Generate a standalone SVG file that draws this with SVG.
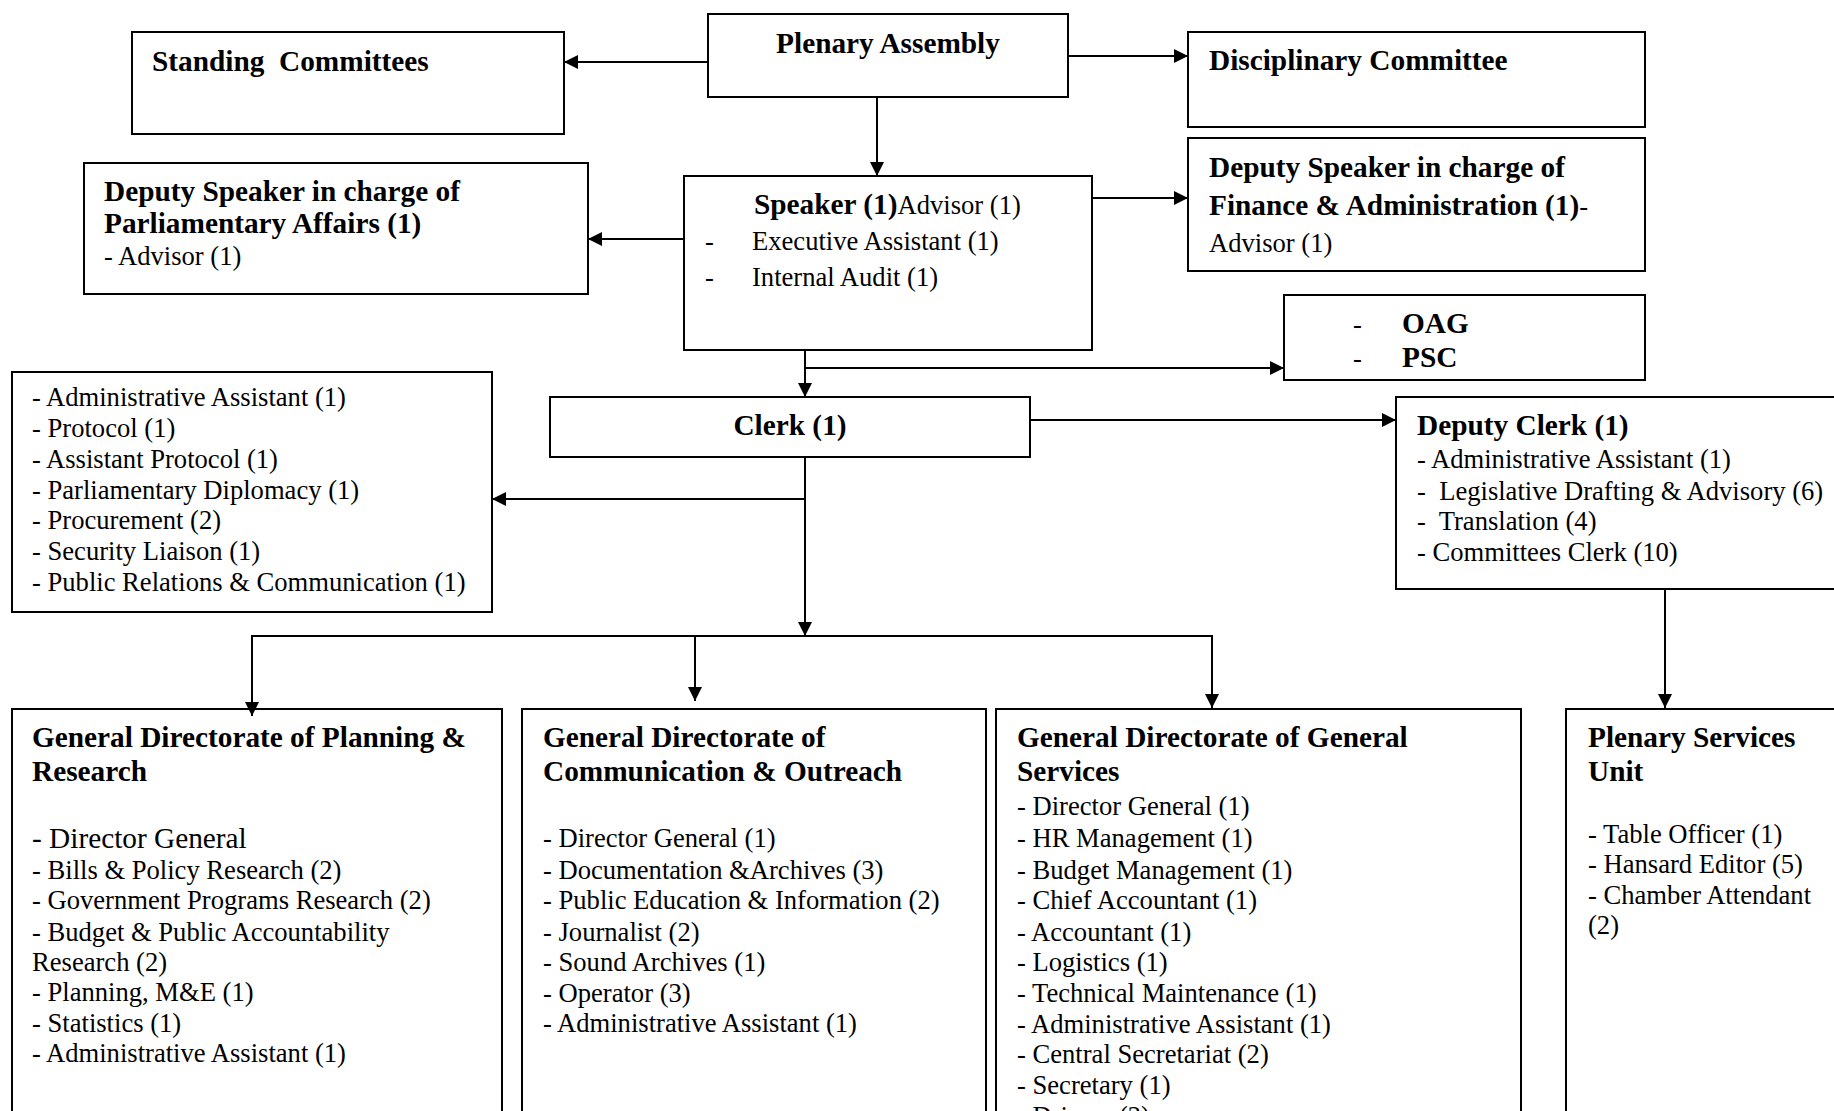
<svg xmlns="http://www.w3.org/2000/svg" width="1834" height="1111" viewBox="0 0 1834 1111">
<style>
text{font-family:"Liberation Serif","Times New Roman",serif;fill:#000}
.b{font-weight:bold;font-size:29.3px}
.n{font-size:26.6px;font-weight:normal}
.nl{font-size:29.3px;font-weight:normal}
.box{fill:#fff;stroke:#000;stroke-width:2}
.conn line{stroke:#000;stroke-width:2}
.arr{marker-end:url(#ah)}
</style>
<defs>
<marker id="ah" markerUnits="userSpaceOnUse" markerWidth="15" markerHeight="15" refX="14" refY="7" orient="auto">
<path d="M0,0 L14,7 L0,14 z" fill="#000"/>
</marker>
</defs>
<rect width="1834" height="1111" fill="#fff"/>

<g id="plenary-assembly">
<rect class="box" x="708" y="14" width="360" height="83"/>
<text class="b" x="888" y="53" text-anchor="middle">Plenary Assembly</text>
</g>

<g id="standing-committees">
<rect class="box" x="132" y="32" width="432" height="102"/>
<text class="b" x="152" y="71" xml:space="preserve">Standing  Committees</text>
</g>

<g id="disciplinary-committee">
<rect class="box" x="1188" y="32" width="457" height="95"/>
<text class="b" x="1209" y="70">Disciplinary Committee</text>
</g>

<g id="deputy-speaker-parliamentary">
<rect class="box" x="84" y="163" width="504" height="131"/>
<text class="b" x="104" y="201">Deputy Speaker in charge of</text>
<text class="b" x="104" y="233">Parliamentary Affairs (1)</text>
<text class="n" x="104" y="265">- Advisor (1)</text>
</g>

<g id="speaker">
<rect class="box" x="684" y="176" width="408" height="174"/>
<text class="b" x="754" y="214">Speaker (1)<tspan class="n">Advisor (1)</tspan></text>
<text class="n" x="705" y="250">-</text>
<text class="n" x="752" y="250">Executive Assistant (1)</text>
<text class="n" x="705" y="286">-</text>
<text class="n" x="752" y="286">Internal Audit (1)</text>
</g>

<g id="deputy-speaker-finance">
<rect class="box" x="1188" y="138" width="457" height="133"/>
<text class="b" x="1209" y="177">Deputy Speaker in charge of</text>
<text class="b" x="1209" y="215">Finance &amp; Administration (1)<tspan class="n">-</tspan></text>
<text class="n" x="1209" y="252">Advisor (1)</text>
</g>

<g id="oag-psc">
<rect class="box" x="1284" y="295" width="361" height="85"/>
<text class="n" x="1353" y="333">-</text>
<text class="b" x="1402" y="333">OAG</text>
<text class="n" x="1353" y="367">-</text>
<text class="b" x="1402" y="367">PSC</text>
</g>

<g id="clerk">
<rect class="box" x="550" y="397" width="480" height="60"/>
<text class="b" x="790" y="435" text-anchor="middle">Clerk (1)</text>
</g>

<g id="clerk-office">
<rect class="box" x="12" y="372" width="480" height="240"/>
<text class="n" x="32" y="406">- Administrative Assistant (1)</text>
<text class="n" x="32" y="437">- Protocol (1)</text>
<text class="n" x="32" y="468">- Assistant Protocol (1)</text>
<text class="n" x="32" y="499">- Parliamentary Diplomacy (1)</text>
<text class="n" x="32" y="529">- Procurement (2)</text>
<text class="n" x="32" y="560">- Security Liaison (1)</text>
<text class="n" x="32" y="591">- Public Relations &amp; Communication (1)</text>
</g>

<g id="deputy-clerk">
<rect class="box" x="1396" y="397" width="460" height="192"/>
<text class="b" x="1417" y="435">Deputy Clerk (1)</text>
<text class="n" x="1417" y="468">- Administrative Assistant (1)</text>
<text class="n" x="1417" y="500" xml:space="preserve">-  Legislative Drafting &amp; Advisory (6)</text>
<text class="n" x="1417" y="530" xml:space="preserve">-  Translation (4)</text>
<text class="n" x="1417" y="561">- Committees Clerk (10)</text>
</g>

<g id="gd-planning-research">
<rect class="box" x="12" y="709" width="490" height="430"/>
<text class="b" x="32" y="747">General Directorate of Planning &amp;</text>
<text class="b" x="32" y="781">Research</text>
<text class="nl" x="32" y="848">- Director General</text>
<text class="n" x="32" y="879">- Bills &amp; Policy Research (2)</text>
<text class="n" x="32" y="909">- Government Programs Research (2)</text>
<text class="n" x="32" y="941">- Budget &amp; Public Accountability</text>
<text class="n" x="32" y="971">Research (2)</text>
<text class="n" x="32" y="1001">- Planning, M&amp;E (1)</text>
<text class="n" x="32" y="1032">- Statistics (1)</text>
<text class="n" x="32" y="1062">- Administrative Assistant (1)</text>
</g>

<g id="gd-communication-outreach">
<rect class="box" x="522" y="709" width="464" height="430"/>
<text class="b" x="543" y="747">General Directorate of</text>
<text class="b" x="543" y="781">Communication &amp; Outreach</text>
<text class="n" x="543" y="847">- Director General (1)</text>
<text class="n" x="543" y="879">- Documentation &amp;Archives (3)</text>
<text class="n" x="543" y="909">- Public Education &amp; Information (2)</text>
<text class="n" x="543" y="941">- Journalist (2)</text>
<text class="n" x="543" y="971">- Sound Archives (1)</text>
<text class="n" x="543" y="1002">- Operator (3)</text>
<text class="n" x="543" y="1032">- Administrative Assistant (1)</text>
</g>

<g id="gd-general-services">
<rect class="box" x="996" y="709" width="525" height="430"/>
<text class="b" x="1017" y="747">General Directorate of General</text>
<text class="b" x="1017" y="781">Services</text>
<text class="n" x="1017" y="815">- Director General (1)</text>
<text class="n" x="1017" y="847">- HR Management (1)</text>
<text class="n" x="1017" y="879">- Budget Management (1)</text>
<text class="n" x="1017" y="909">- Chief Accountant (1)</text>
<text class="n" x="1017" y="941">- Accountant (1)</text>
<text class="n" x="1017" y="971">- Logistics (1)</text>
<text class="n" x="1017" y="1002">- Technical Maintenance (1)</text>
<text class="n" x="1017" y="1033">- Administrative Assistant (1)</text>
<text class="n" x="1017" y="1063">- Central Secretariat (2)</text>
<text class="n" x="1017" y="1094">- Secretary (1)</text>
<text class="n" x="1017" y="1125">- Drivers (2)</text>
</g>

<g id="plenary-services-unit">
<rect class="box" x="1566" y="709" width="290" height="430"/>
<text class="b" x="1588" y="747">Plenary Services</text>
<text class="b" x="1588" y="781">Unit</text>
<text class="n" x="1588" y="843">- Table Officer (1)</text>
<text class="n" x="1588" y="873">- Hansard Editor (5)</text>
<text class="n" x="1588" y="904">- Chamber Attendant</text>
<text class="n" x="1588" y="934">(2)</text>
</g>

<g id="connectors" class="conn">
<line class="arr" x1="708" y1="62" x2="564" y2="62"/>
<line class="arr" x1="1068" y1="56" x2="1188" y2="56"/>
<line class="arr" x1="877" y1="97" x2="877" y2="176"/>
<line class="arr" x1="684" y1="239" x2="588" y2="239"/>
<line class="arr" x1="1092" y1="198" x2="1188" y2="198"/>
<line class="arr" x1="805" y1="350" x2="805" y2="397"/>
<line class="arr" x1="805" y1="368" x2="1284" y2="368"/>
<line class="arr" x1="1030" y1="420" x2="1396" y2="420"/>
<line class="arr" x1="805" y1="499" x2="492" y2="499"/>
<line class="arr" x1="805" y1="457" x2="805" y2="636"/>
<line x1="251" y1="636" x2="1213" y2="636"/>
<line class="arr" x1="252" y1="636" x2="252" y2="716"/>
<line class="arr" x1="695" y1="636" x2="695" y2="701"/>
<line class="arr" x1="1212" y1="636" x2="1212" y2="708"/>
<line class="arr" x1="1665" y1="589" x2="1665" y2="708"/>
</g>
</svg>
